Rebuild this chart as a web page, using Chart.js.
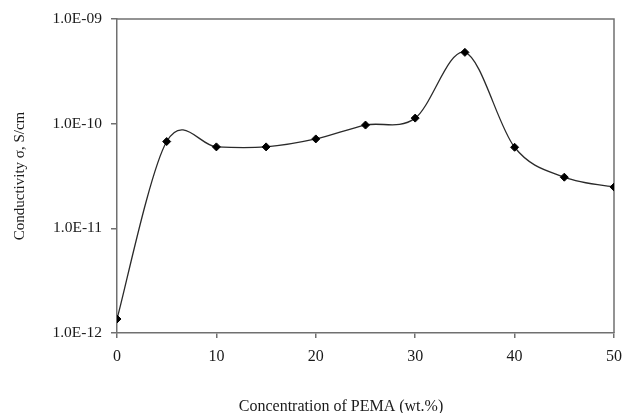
<!DOCTYPE html>
<html>
<head>
<meta charset="utf-8">
<script src="https://cdn.jsdelivr.net/npm/chart.js@4/dist/chart.umd.min.js"></script>
<style>
  html, body { margin: 0; padding: 0; background: #ffffff; }
  #wrap { width: 623px; height: 413px; }
</style>
</head>
<body>
<div id="wrap"><canvas id="c" width="623" height="413"></canvas></div>
<script>
// Data
const concentration = [0, 5, 10, 15, 20, 25, 30, 35, 40, 45, 50];
const conductivity = [1.36e-12, 6.75e-11, 6.0e-11, 6.0e-11, 7.15e-11, 9.7e-11, 1.13e-10, 4.8e-10, 5.95e-11, 3.08e-11, 2.48e-11];
const yTickValues = [1e-12, 1e-11, 1e-10, 1e-9];
const yTickLabels = ["1.0E-12", "1.0E-11", "1.0E-10", "1.0E-09"];
const xTickValues = [0, 10, 20, 30, 40, 50];
const xTitle = "Concentration of PEMA (wt.%)";
const yTitle = "Conductivity \u03c3, S/cm";

const FONT = "'Liberation Serif', 'Times New Roman', serif";
const AXIS = "#707070";
const TEXT = "#1a1a1a";

// Spreadsheet-style smoothed line: Catmull-Rom control points on the library's own point positions
const smoothLine = {
  id: 'smoothLine',
  beforeDatasetsDraw(chart) {
    chart.data.datasets.forEach((ds, di) => {
      const meta = chart.getDatasetMeta(di);
      const line = meta.dataset;
      const pts = meta.data;
      if (!line || !pts.length) return;
      line.updateControlPoints(chart.chartArea, 'x');
      for (let i = 0; i < pts.length; i++) {
        const p = pts[i];
        const prev = pts[Math.max(i - 1, 0)];
        const next = pts[Math.min(i + 1, pts.length - 1)];
        const dx = (next.x - prev.x) / 6, dy = (next.y - prev.y) / 6;
        p.cp1x = p.x - dx; p.cp1y = p.y - dy;
        p.cp2x = p.x + dx; p.cp2y = p.y + dy;
      }
      line._path = undefined;
    });
  }
};

const frame = {
  id: 'frame',
  beforeDatasetsDraw(chart) {
    const {ctx, chartArea: a} = chart;
    ctx.save();
    ctx.strokeStyle = AXIS;
    ctx.lineWidth = 1.5;
    ctx.beginPath();
    ctx.moveTo(a.left, a.top);
    ctx.lineTo(a.right, a.top);
    ctx.lineTo(a.right, a.bottom);
    ctx.stroke();
    ctx.restore();
  },
  afterDraw(chart) {
    const {ctx} = chart;
    ctx.save();
    ctx.font = "16px " + FONT;
    ctx.fillStyle = TEXT;
    ctx.textAlign = 'center';
    ctx.textBaseline = 'alphabetic';
    ctx.fillText(xTitle, 341, 411);
    ctx.restore();
  }
};

new Chart(document.getElementById('c'), {
  type: 'line',
  data: {
    datasets: [{
      data: concentration.map((x, i) => ({x: x, y: conductivity[i]})),
      borderColor: '#2a2a2a',
      borderWidth: 1.3,
      tension: 0.4,
      fill: false,
      pointStyle: 'rectRot',
      pointRadius: 4,
      pointBackgroundColor: '#000000',
      pointBorderColor: '#000000',
      pointBorderWidth: 1
    }]
  },
  options: {
    responsive: false,
    animation: false,
    devicePixelRatio: 1,
    layout: { padding: { top: 19, right: 0, left: 0, bottom: 0 } },
    plugins: { legend: { display: false }, tooltip: { enabled: false } },
    scales: {
      x: {
        type: 'linear',
        min: 0, max: 50,
        afterBuildTicks(scale) { scale.ticks = xTickValues.map(v => ({value: v})); },
        afterFit(scale) { scale.height = 80; scale.paddingRight = 9; scale.paddingLeft = 0; },
        grid: { display: true, drawOnChartArea: false, drawTicks: true, tickLength: 5, color: AXIS, lineWidth: 1.5 },
        border: { display: true, color: AXIS, width: 1.5 },
        ticks: { color: TEXT, font: { family: FONT, size: 16 }, padding: 9, maxRotation: 0 }
      },
      y: {
        type: 'logarithmic',
        min: 1e-12, max: 1e-9,
        afterBuildTicks(scale) { scale.ticks = yTickValues.map(v => ({value: v})); },
        afterFit(scale) { scale.width = 117; },
        grid: { display: true, drawOnChartArea: false, drawTicks: true, tickLength: 6, color: AXIS, lineWidth: 1.5 },
        border: { display: true, color: AXIS, width: 1.5 },
        ticks: {
          color: TEXT, font: { family: FONT, size: 15.5 }, padding: 9,
          callback(value) {
            const i = yTickValues.findIndex(v => Math.abs(Math.log10(v) - Math.log10(value)) < 1e-6);
            return i >= 0 ? yTickLabels[i] : '';
          }
        },
        title: { display: true, text: yTitle, color: TEXT, font: { family: FONT, size: 15 }, padding: { top: 11, bottom: 0 } }
      }
    }
  },
  plugins: [smoothLine, frame]
});
</script>
</body>
</html>
